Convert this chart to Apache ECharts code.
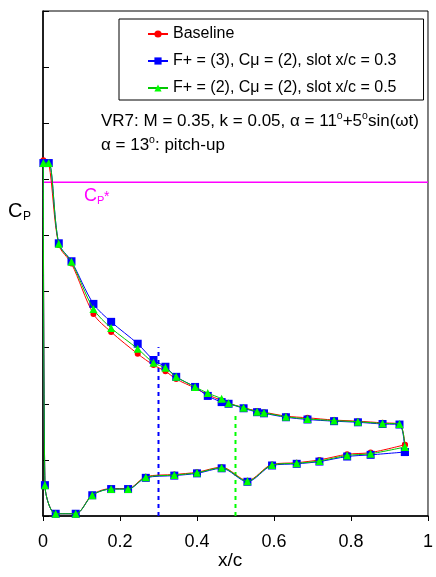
<!DOCTYPE html>
<html>
<head>
<meta charset="utf-8">
<script src="https://cdn.jsdelivr.net/npm/echarts@6/dist/echarts.min.js"></script>
<style>
  html, body { margin: 0; padding: 0; background: #fff; }
  #chart { width: 436px; height: 577px; }
</style>
</head>
<body>
<div id="chart"></div>
<script>
// ---- data (x/c around the airfoil: TE -> lower surface -> LE -> upper surface -> TE) ----
const xc = [0.940, 0.851, 0.790, 0.718, 0.659, 0.595, 0.531, 0.464, 0.400, 0.341, 0.267, 0.221, 0.177, 0.128, 0.085, 0.033, 0.005,
            0.001, 0.015, 0.041, 0.074, 0.131, 0.177, 0.246, 0.287, 0.318, 0.346, 0.395, 0.428, 0.464, 0.482, 0.521, 0.556, 0.574, 0.631, 0.687, 0.756, 0.818, 0.882, 0.926, 0.940];
const cpBaseline = [-0.27, -0.13, -0.10, 0.00, 0.05, 0.08, 0.37, 0.13, 0.22, 0.26, 0.30, 0.51, 0.51, 0.62, 0.96, 0.96, 0.45,
            -5.34, -5.29, -3.83, -3.50, -2.60, -2.28, -1.89, -1.69, -1.58, -1.44, -1.28, -1.16, -1.06, -1.01, -0.93, -0.87, -0.85, -0.78, -0.75, -0.71, -0.69, -0.66, -0.64, -0.27];
const cpSlot03 = [-0.14, -0.09, -0.06, 0.03, 0.07, 0.10, 0.39, 0.15, 0.24, 0.28, 0.32, 0.52, 0.52, 0.63, 0.96, 0.96, 0.45,
            -5.29, -5.29, -3.86, -3.54, -2.78, -2.46, -2.07, -1.78, -1.66, -1.48, -1.30, -1.14, -1.03, -1.00, -0.92, -0.85, -0.83, -0.76, -0.72, -0.69, -0.67, -0.64, -0.63, -0.14];
const cpSlot05 = [-0.23, -0.11, -0.08, 0.02, 0.06, 0.09, 0.38, 0.14, 0.23, 0.27, 0.31, 0.52, 0.52, 0.63, 0.96, 0.96, 0.45,
            -5.29, -5.29, -3.85, -3.53, -2.69, -2.35, -1.98, -1.73, -1.64, -1.48, -1.30, -1.19, -1.09, -1.01, -0.93, -0.86, -0.84, -0.77, -0.73, -0.70, -0.68, -0.65, -0.64, -0.23];
const cpStar = -4.95;
const slotX = [0.3, 0.5];
const slotTop = [-2.01, -0.83];
const xTicks = [0, 0.2, 0.4, 0.6, 0.8, 1];
const seriesNames = ['Baseline', 'F+ = (3), C\u03bc = (2), slot x/c = 0.3', 'F+ = (2), C\u03bc = (2), slot x/c = 0.5'];

const FONT = '"Liberation Sans", Arial, Helvetica, sans-serif';
const zip = (xs, ys) => xs.map((x, i) => [x, ys[i]]);

const chart = echarts.init(document.getElementById('chart'), null, { renderer: 'canvas' });
chart.setOption({
  animation: false,
  backgroundColor: '#fff',
  grid: { left: 43, right: 3, top: 11, bottom: 61, show: true, borderColor: '#000', borderWidth: 1, backgroundColor: 'transparent' },
  xAxis: {
    type: 'value', min: 0, max: 1, interval: 0.2,
    axisLine: { show: true, onZero: false, lineStyle: { color: '#000', width: 1.5 } },
    axisTick: { show: true, inside: false, length: 5, lineStyle: { color: '#000', width: 1 } },
    axisLabel: { fontSize: 18, fontFamily: FONT, color: '#000', margin: 17,
      formatter: v => { const t = xTicks.find(k => Math.abs(k - v) < 1e-9); return t === undefined ? '' : String(t); } },
    splitLine: { show: false }
  },
  yAxis: {
    type: 'value', inverse: true, min: -8, max: 1, interval: 1,
    axisLine: { show: true, onZero: false, lineStyle: { color: '#000', width: 1.5 } },
    axisTick: { show: true, inside: true, length: 6, lineStyle: { color: '#000', width: 1 } },
    axisLabel: { show: false },
    splitLine: { show: false }
  },
  legend: {
    data: seriesNames,
    orient: 'vertical', left: 119, top: 19,
    padding: [7, 27, 4, 28], itemGap: 11, textGap: 4,
    itemWidth: 20, itemHeight: 9,
    borderColor: '#000', borderWidth: 1, backgroundColor: '#fff',
    textStyle: { fontSize: 16, fontFamily: FONT, color: '#000' }
  },
  series: [
    { type: 'line', data: [[0, cpStar], [1, cpStar]], symbol: 'none', silent: true,
      lineStyle: { color: '#ff00ff', width: 1.5 }, z: 1 },
    { type: 'line', data: [[slotX[0], 1], [slotX[0], slotTop[0]]], symbol: 'none', silent: true,
      lineStyle: { color: '#0000ff', width: 2, type: [4, 4] }, z: 1 },
    { type: 'line', data: [[slotX[1], 1], [slotX[1], slotTop[1]]], symbol: 'none', silent: true,
      lineStyle: { color: '#00ff00', width: 2, type: [4, 4] }, z: 1 },
    { name: seriesNames[0], type: 'line', data: zip(xc, cpBaseline), smooth: 0.3,
      symbol: 'circle', symbolSize: 6, itemStyle: { color: '#ff0000' }, lineStyle: { color: '#ff0000', width: 1 }, z: 2 },
    { name: seriesNames[1], type: 'line', data: zip(xc, cpSlot03), smooth: 0.3,
      symbol: 'rect', symbolSize: 8, itemStyle: { color: '#0000ff' }, lineStyle: { color: '#0000ff', width: 1 }, z: 3 },
    { name: seriesNames[2], type: 'line', data: zip(xc, cpSlot05), smooth: 0.3,
      symbol: 'triangle', symbolSize: 8, itemStyle: { color: '#00ff00' }, lineStyle: { color: '#00c800', width: 1 }, z: 4 }
  ],
  graphic: [
    { type: 'text', x: 101, y: 121, z: 10, style: { text: '{n|VR7: M = 0.35, k = 0.05, \u03b1 = 11}{s|o}{n|+5}{s|o}{n|sin(\u03c9t)}',
      verticalAlign: 'middle', fill: '#000',
      rich: { n: { fontSize: 17, fontFamily: FONT, lineHeight: 20, fill: '#000' },
              s: { fontSize: 10.5, fontFamily: FONT, lineHeight: 12, verticalAlign: 'top', fill: '#000' } } } },
    { type: 'text', x: 101, y: 145, z: 10, style: { text: '{n|\u03b1 = 13}{s|o}{n|: pitch-up}',
      verticalAlign: 'middle', fill: '#000',
      rich: { n: { fontSize: 17, fontFamily: FONT, lineHeight: 20, fill: '#000' },
              s: { fontSize: 10.5, fontFamily: FONT, lineHeight: 12, verticalAlign: 'top', fill: '#000' } } } },
    { type: 'text', x: 8, y: 211, style: { text: 'C', font: '20px ' + FONT, fill: '#000', verticalAlign: 'middle' } },
    { type: 'text', x: 23, y: 217, style: { text: 'P', font: '12px ' + FONT, fill: '#000', verticalAlign: 'middle' } },
    { type: 'text', x: 84, y: 196, style: { text: 'C', font: '18px ' + FONT, fill: '#ff00ff', verticalAlign: 'middle' } },
    { type: 'text', x: 97, y: 201, style: { text: 'P', font: '11px ' + FONT, fill: '#ff00ff', verticalAlign: 'middle' } },
    { type: 'text', x: 104, y: 197, style: { text: '*', font: '14px ' + FONT, fill: '#ff00ff', verticalAlign: 'middle' } },
    { type: 'text', x: 218, y: 561, style: { text: 'x/c', font: '19px ' + FONT, fill: '#000', verticalAlign: 'middle' } }
  ]
});
</script>
</body>
</html>
